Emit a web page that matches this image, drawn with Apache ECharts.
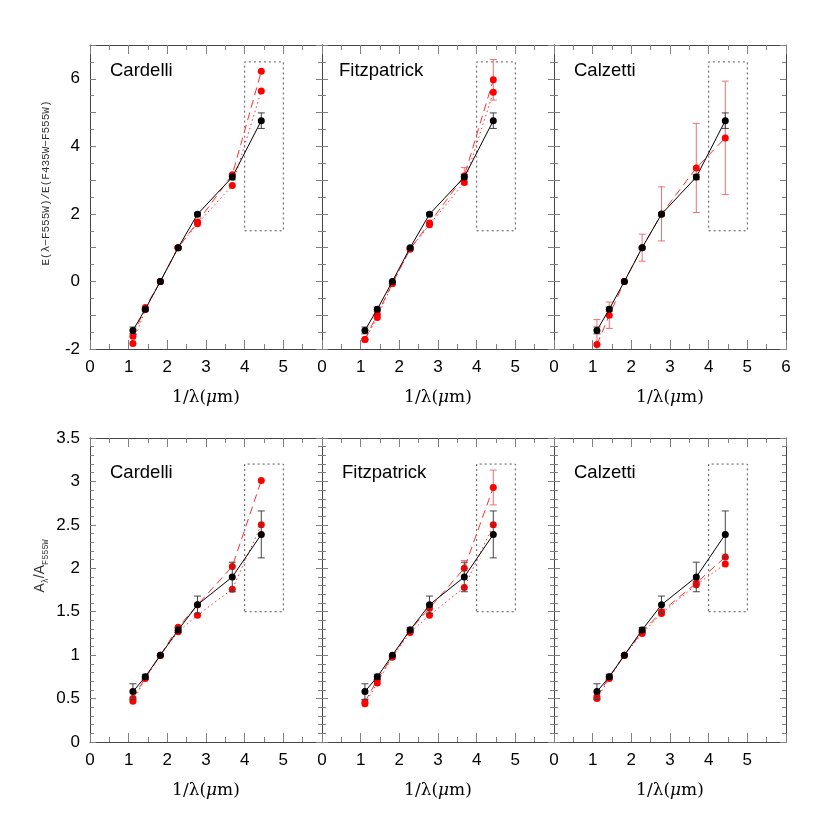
<!DOCTYPE html>
<html>
<head>
<meta charset="utf-8">
<script src="https://cdn.jsdelivr.net/npm/echarts@6/dist/echarts.min.js"></script>
<style>
  html, body { margin: 0; padding: 0; background: #fff; }
  #main { width: 830px; height: 830px; }
</style>
</head>
<body>
<div id="main"></div>
<script>
// 1/lambda of the seven filters (micron^-1)
const xVals = [1.11, 1.43, 1.82, 2.28, 2.78, 3.68, 4.43];

// top row: E(lambda-F555W)/E(F435W-F555W)
const eBlack = [-1.45, -0.82, 0.0, 1.0, 1.99, 3.09, 4.76];
const eBlackErr = [0.1, 0.06, 0, 0.03, 0.05, 0.08, 0.23];
const eCardDash = [-1.62, -0.77, 0.0, 1.0, 1.76, 3.16, 6.22];
const eCardDot = [-1.84, -0.83, 0.0, 1.0, 1.71, 2.84, 5.64];
const eFitzDash = [-1.72, -0.97, -0.06, 0.96, 1.73, 3.12, 5.97];
const eFitzDashErr = [0, 0, 0, 0, 0, 0.25, 0.6];
const eFitzDot = [-1.72, -1.07, -0.06, 0.96, 1.68, 2.93, 5.60];
const eCalzDash = [-1.87, -1.0, 0.0, 1.0, 2.0, 3.36, 4.25];
const eCalzDashErr = [0.74, 0.39, 0, 0.4, 0.8, 1.32, 1.68];

// bottom row: A_lambda/A_F555W
const aBlack = [0.58, 0.75, 1.0, 1.29, 1.58, 1.90, 2.39];
const aBlackErr = [0.09, 0.03, 0, 0.03, 0.1, 0.17, 0.27];
const aCardDash = [0.50, 0.74, 1.0, 1.32, 1.58, 2.02, 3.01];
const aCardDot = [0.47, 0.73, 1.0, 1.27, 1.46, 1.76, 2.50];
const aFitzDash = [0.46, 0.72, 0.98, 1.29, 1.54, 2.00, 2.93];
const aFitzDashErr = [0, 0, 0, 0, 0, 0.09, 0.2];
const aFitzDot = [0.44, 0.68, 0.98, 1.26, 1.46, 1.78, 2.50];
const aCalzDash = [0.52, 0.75, 1.0, 1.27, 1.50, 1.83, 2.13];
const aCalzDot = [0.50, 0.73, 1.0, 1.25, 1.48, 1.81, 2.05];

// dotted boxes (x range, y range)
const boxX = [4, 5];
const eBoxY = [1.5, 6.5];
const aBoxY = [1.5, 3.2];

const lawNames = ['Cardelli', 'Fitzpatrick', 'Calzetti'];

const panels = [
  { row: 0, col: 0, black: eBlack, bErr: eBlackErr, dash: eCardDash, dErr: null, dot: eCardDot, box: eBoxY },
  { row: 0, col: 1, black: eBlack, bErr: eBlackErr, dash: eFitzDash, dErr: eFitzDashErr, dot: eFitzDot, box: eBoxY },
  { row: 0, col: 2, black: eBlack, bErr: eBlackErr, dash: eCalzDash, dErr: eCalzDashErr, dot: null, box: eBoxY },
  { row: 1, col: 0, black: aBlack, bErr: aBlackErr, dash: aCardDash, dErr: null, dot: aCardDot, box: aBoxY },
  { row: 1, col: 1, black: aBlack, bErr: aBlackErr, dash: aFitzDash, dErr: aFitzDashErr, dot: aFitzDot, box: aBoxY },
  { row: 1, col: 2, black: aBlack, bErr: aBlackErr, dash: aCalzDash, dErr: null, dot: aCalzDot, box: aBoxY }
];

const gridLeft = [90, 322, 554];
const gridTop = [45, 438];
const gridW = 232;
const gridH = 304;

function pairs(ys) {
  return xVals.map((x, i) => [x, ys[i]]);
}
function errs(ys, es) {
  const out = [];
  xVals.forEach((x, i) => {
    if (es[i] > 0) out.push([x, ys[i] - es[i], ys[i] + es[i]]);
  });
  return out;
}
function renderErr(params, api) {
  const x = api.value(0);
  const top = api.coord([x, api.value(2)]);
  const bot = api.coord([x, api.value(1)]);
  const w = 3.5;
  const st = { stroke: api.visual('color'), lineWidth: 1 };
  return {
    type: 'group',
    children: [
      { type: 'line', shape: { x1: top[0], y1: top[1], x2: bot[0], y2: bot[1] }, style: st },
      { type: 'line', shape: { x1: top[0] - w, y1: top[1], x2: top[0] + w, y2: top[1] }, style: st },
      { type: 'line', shape: { x1: bot[0] - w, y1: bot[1], x2: bot[0] + w, y2: bot[1] }, style: st }
    ]
  };
}

const tickCol = '#808080';
const axisCol = '#444';
const labelFont = { fontFamily: 'Liberation Sans', fontSize: 17, color: '#000' };

const grids = [], xAxes = [], yAxes = [], series = [], titles = [];

panels.forEach((p, i) => {
  grids.push({ left: gridLeft[p.col], top: gridTop[p.row], width: gridW, height: gridH });
  const last = p.row === 0 && p.col === 2;
  // bottom x axis
  xAxes.push({
    type: 'value', gridIndex: i, min: 0, max: 6, interval: 1, position: 'bottom',
    name: '{n|1/λ(}{i|μ}{n|m)}', nameLocation: 'middle', nameGap: 40,
    nameTextStyle: {
      rich: {
        n: { fontFamily: 'DejaVu Serif', fontSize: 17, color: '#000' },
        i: { fontFamily: 'DejaVu Serif', fontStyle: 'italic', fontSize: 17, color: '#000' }
      }
    },
    axisLine: { onZero: false, lineStyle: { color: axisCol } },
    axisTick: { inside: true, length: 9, lineStyle: { color: tickCol } },
    minorTick: { show: true, splitNumber: 2, length: 5, lineStyle: { color: tickCol } },
    splitLine: { show: false },
    axisLabel: Object.assign({ margin: 10, showMaxLabel: last, formatter: v => (v === 6 && !last ? '' : String(v)) }, labelFont)
  });
  // top x axis (ticks only)
  xAxes.push({
    type: 'value', gridIndex: i, min: 0, max: 6, interval: 1, position: 'top',
    axisLine: { onZero: false, lineStyle: { color: axisCol } },
    axisTick: { inside: true, length: 9, lineStyle: { color: tickCol } },
    minorTick: { show: true, splitNumber: 2, length: 5, lineStyle: { color: tickCol } },
    splitLine: { show: false },
    axisLabel: { show: false }
  });
  const yCfg = p.row === 0
    ? { min: -2, max: 7, interval: 1, minor: 2, fmt: v => (v % 2 === 0 ? String(v) : '') }
    : { min: 0, max: 3.5, interval: 0.5, minor: 5, fmt: v => String(v) };
  yAxes.push({
    type: 'value', gridIndex: i, min: yCfg.min, max: yCfg.max, interval: yCfg.interval, position: 'left',
    axisLine: { show: true, onZero: false, lineStyle: { color: axisCol } },
    axisTick: { show: true, inside: true, length: 6, lineStyle: { color: tickCol } },
    minorTick: { show: true, splitNumber: yCfg.minor, length: 4, lineStyle: { color: tickCol } },
    splitLine: { show: false },
    axisLabel: Object.assign({ show: p.col === 0, margin: 10, formatter: yCfg.fmt }, labelFont)
  });
  yAxes.push({
    type: 'value', gridIndex: i, min: yCfg.min, max: yCfg.max, interval: yCfg.interval, position: 'right',
    axisLine: { show: true, onZero: false, lineStyle: { color: axisCol } },
    axisTick: { show: true, inside: true, length: 6, lineStyle: { color: tickCol } },
    minorTick: { show: true, splitNumber: yCfg.minor, length: 4, lineStyle: { color: tickCol } },
    splitLine: { show: false },
    axisLabel: { show: false }
  });

  const xi = 2 * i, yi = 2 * i;
  // red model curves
  series.push({
    type: 'line', xAxisIndex: xi, yAxisIndex: yi, data: pairs(p.dash), z: 2,
    symbol: 'circle', symbolSize: 7, itemStyle: { color: '#ff0000' },
    lineStyle: { color: '#ff3030', width: 1, type: [8, 5] }, animation: false
  });
  if (p.dot) {
    series.push({
      type: 'line', xAxisIndex: xi, yAxisIndex: yi, data: pairs(p.dot), z: 2,
      symbol: 'circle', symbolSize: 7, itemStyle: { color: '#ff0000' },
      lineStyle: { color: '#ff3030', width: 1, type: [1.5, 3] }, animation: false
    });
  }
  if (p.dErr) {
    series.push({
      type: 'custom', xAxisIndex: xi, yAxisIndex: yi, renderItem: renderErr, clip: true, z: 1,
      itemStyle: { color: '#f07070' }, encode: { x: 0, y: [1, 2] },
      data: errs(p.dash, p.dErr), animation: false
    });
  }
  // observed points
  series.push({
    type: 'custom', xAxisIndex: xi, yAxisIndex: yi, renderItem: renderErr, clip: true, z: 3,
    itemStyle: { color: '#444' }, encode: { x: 0, y: [1, 2] },
    data: errs(p.black, p.bErr), animation: false
  });
  series.push({
    type: 'line', xAxisIndex: xi, yAxisIndex: yi, data: pairs(p.black), z: 4,
    symbol: 'circle', symbolSize: 7, itemStyle: { color: '#000' },
    lineStyle: { color: '#000', width: 1 }, animation: false,
    markArea: {
      silent: true,
      itemStyle: { color: 'rgba(0,0,0,0)', borderColor: '#555', borderWidth: 1, borderType: [2, 3] },
      data: [[{ coord: [boxX[0], p.box[0]] }, { coord: [boxX[1], p.box[1]] }]]
    }
  });

  titles.push({
    text: lawNames[p.col], left: gridLeft[p.col] + (p.col === 1 && p.row === 0 ? 17 : 20),
    top: p.row === 0 ? 61 : 463, padding: 0,
    textStyle: { fontFamily: 'Liberation Sans', fontSize: 18.5, fontWeight: 'normal', color: '#000' }
  });
});

const chart = echarts.init(document.getElementById('main'), null, { renderer: 'canvas' });
chart.setOption({
  backgroundColor: '#ffffff',
  animation: false,
  title: titles,
  grid: grids,
  xAxis: xAxes,
  yAxis: yAxes,
  series: series,
  graphic: [
    {
      type: 'text', x: 46, y: 183, rotation: Math.PI / 2,
      style: {
        text: 'E(λ−F555W)/E(F435W−F555W)', align: 'center', verticalAlign: 'middle',
        fontFamily: 'Liberation Mono', fontSize: 11, fill: '#333'
      }
    },
    {
      type: 'text', x: 40, y: 566, rotation: Math.PI / 2,
      style: {
        text: '{a|A}{s|λ}{a|/A}{s|F555W}', align: 'center', verticalAlign: 'middle',
        rich: {
          a: { fontFamily: 'Liberation Sans', fontSize: 14, lineHeight: 20, fill: '#333' },
          s: { fontFamily: 'Liberation Mono', fontSize: 8.5, lineHeight: 8, verticalAlign: 'bottom', fill: '#333' }
        }
      }
    }
  ]
});
</script>
</body>
</html>
